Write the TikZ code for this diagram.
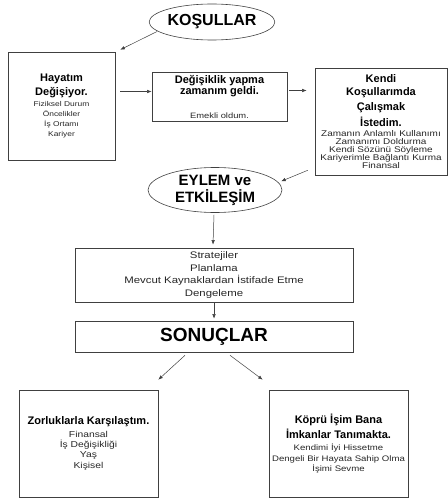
\documentclass[tikz,border=0pt]{standalone}
\usepackage{fontspec}
\setmainfont{Liberation Sans}
\newfontfamily\wide[FakeStretch=1.2]{Liberation Sans}
\usetikzlibrary{shapes.geometric,arrows.meta,calc}
\newcommand{\hb}[1]{{\normalfont\bfseries\color{black}\fontsize{11}{12}\selectfont #1}}

\begin{document}
\begin{tikzpicture}[x=1pt, y=-1pt,
    box/.style={rectangle, draw=black!75, line width=0.6pt, align=center, inner sep=1pt, text=black!85},
    oval/.style={ellipse, draw=black!75, line width=0.6pt, align=center, inner sep=0pt, font=\bfseries},
    arr/.style={-{Latex[length=4.5pt,width=3.5pt]}, line width=0.5pt, black!75}
]
\useasboundingbox (0,0) rectangle (447,500);

% Ovals
\node[oval, minimum width=106, minimum height=36, font=\bfseries\fontsize{16}{18}\selectfont] (kosul) at (212,22) {KOŞULLAR};
\node[oval, minimum width=134, minimum height=45, font=\bfseries\fontsize{15}{17}\selectfont] (eylem) at (215,190) {EYLEM ve\\ETKİLEŞİM};

% Boxes
\node[box, minimum width=107, minimum height=108, font={\wide\fontsize{7}{10}\selectfont}] (hayat) at (61.5,106)
    {\hb{Hayatım}\\[2pt]\hb{Değişiyor.}\\[1pt]Fiziksel Durum\\Öncelikler\\İş Ortamı\\Kariyer};
\node[box, minimum width=135, minimum height=49, font={\wide\fontsize{7.8}{11}\selectfont}] (degis) at (219.5,96.5)
    {\hb{Değişiklik yapma}\\\hb{zamanım geldi.}\\[13pt]Emekli oldum.};
\node[box, minimum width=132, minimum height=107, font={\wide\fontsize{8.3}{8}\selectfont}] (kendi) at (381,121.5)
    {\hb{Kendi}\\[4pt]\hb{Koşullarımda}\\[4pt]\hb{Çalışmak}\\[3pt]\hb{İstedim.}\\[2pt]Zamanın Anlamlı Kullanımı\\Zamanımı Doldurma\\Kendi Sözünü Söyleme\\Kariyerimle Bağlantı Kurma\\Finansal};
\node[box, minimum width=278, minimum height=54, font={\wide\fontsize{9.5}{12.5}\selectfont}] (strat) at (214,275)
    {Stratejiler\\Planlama\\Mevcut Kaynaklardan İstifade Etme\\Dengeleme};
\node[box, minimum width=278, minimum height=31, font=\bfseries\fontsize{19}{20}\selectfont, text=black] (sonuc) at (214,336.5) {SONUÇLAR};
\node[box, minimum width=139, minimum height=107, font={\wide\fontsize{8.6}{10.3}\selectfont}] (zor) at (88.5,443.5)
    {\hb{Zorluklarla Karşılaştım.}\\[2pt]Finansal\\İş Değişikliği\\Yaş\\Kişisel};
\node[box, minimum width=139, minimum height=107, font={\wide\fontsize{8}{10.3}\selectfont}] (kopru) at (338.5,443.5)
    {\hb{Köprü İşim Bana}\\[2.4pt]\hb{İmkanlar Tanımakta.}\\[2pt]Kendimi İyi Hissetme\\Dengeli Bir Hayata Sahip Olma\\İşimi Sevme};

% Arrows
\draw[arr] ($(kosul.190)+(-1,0)$) -- ($(hayat.north east)+(5,-2)$);
\draw[arr] ($(hayat.east |- degis.west)+(5,-5)$) -- ($(degis.west)+(0,-5)$);
\draw[arr] ($(degis.east)+(2,-6)$) -- ($(degis.east -| kendi.west)+(-8,-6)$);
\draw[arr] ($(kendi.south west)+(-7,-5)$) -- ($(eylem.8)+(4,0)$);
\draw[arr] ($(eylem.south)+(-1,2)$) -- ($(strat.north)+(-1,-3)$);
\draw[arr] (strat.south) -- ($(sonuc.north)+(0,-2)$);
\draw[arr] ($(sonuc.south)+(-29,3)$) -- ($(zor.north east)+(0,-10)$);
\draw[arr] ($(sonuc.south)+(16,3)$) -- ($(kopru.north west)+(-6,-10)$);

\end{tikzpicture}
\end{document}
